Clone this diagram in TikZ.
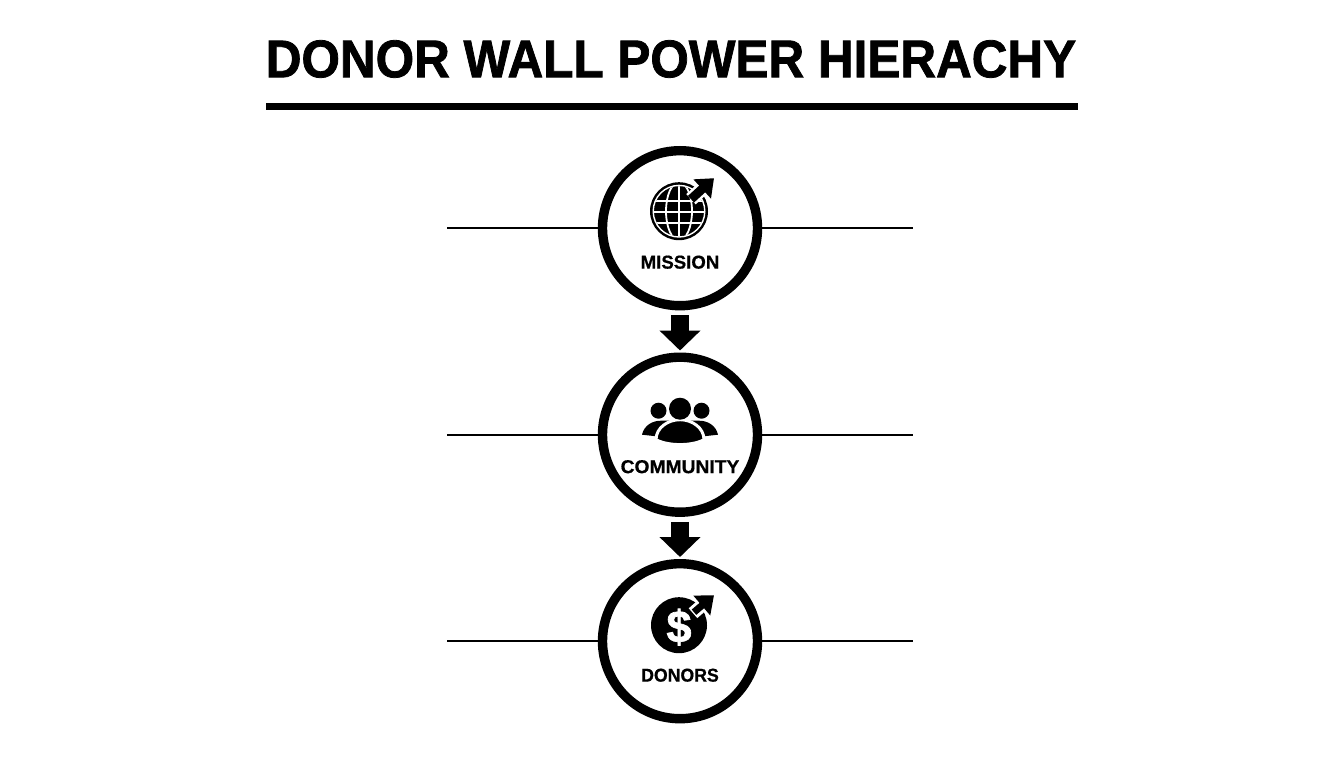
\documentclass[tikz,border=0pt]{standalone}
\usepackage{fontspec}
\setmainfont{Liberation Sans}
\newfontfamily\heavyfont[FakeBold=1.5]{Liberation Sans Bold}
\newfontfamily\labelfont[FakeBold=0.6]{Liberation Sans Bold}
\usetikzlibrary{arrows.meta,positioning}
\tikzset{%
tiernode/.style={circle, draw=black, line width=9.4pt, fill=white, minimum size=155pt, inner sep=0pt},
tierlabel/.style={font=\labelfont\fontsize{18.6}{18.6}\selectfont, inner sep=0pt},
sideline/.style={draw=black, line width=1.9pt},
flow/.style={draw=black, line width=18pt, -{Triangle[length=20pt,width=40pt]}, shorten <=5pt, shorten >=2pt},
iconarrow/.style={draw=black, line width=9pt, -{Triangle[length=16pt,width=25pt]}},
iconhalo/.style={draw=white, line width=14pt, -{Triangle[length=22pt,width=35pt]}},
globeicon/.pic={
	\fill[black] (0,0) circle (29);
	\draw[white, line width=1.4pt] (0,0) circle (25.8);
	\begin{scope}
		\clip (0,0) circle (25);
		\draw[white, line width=1.8pt] (0,0) ellipse (13 and 29);
		\draw[white, line width=1.8pt] (0,-29) -- (0,29);
		\draw[white, line width=1.8pt] (-29,10) -- (29,10);
		\draw[white, line width=1.8pt] (-29,-1) -- (29,-1);
		\draw[white, line width=1.8pt] (-29,-12) -- (29,-12);
	\end{scope}
	\draw[iconhalo] (12,12) -- (38,36);
	\draw[iconarrow] (12,12) -- (35,33);
},
peopleicon/.pic={
	\fill[black] (-21.5,24) circle (8);
	\fill[black] (21.5,24) circle (8);
	\fill[black] (-38,0) .. controls (-36,9) and (-28,14) .. (-19,14) -- (19,14) .. controls (28,14) and (36,9) .. (38,0) -- (20,-2) -- (-20,-2) -- cycle;
	\fill[black, draw=white, line width=3pt] (-24,-5) .. controls (-24,7) and (-12,15) .. (0,15) .. controls (12,15) and (24,7) .. (24,-5) .. controls (12,-11.5) and (-12,-11.5) .. cycle;
	\fill[black] (0,26) circle (11);
},
dollaricon/.pic={
	\fill[black] (0,0) circle (28);
	\node[text=white, font=\heavyfont\fontsize{45}{45}\selectfont, inner sep=0pt] (dollarsign) at (0,-2) {\$};
	\draw[iconhalo, line width=13pt] (14,12) -- (38,33);
	\draw[iconarrow, line width=7pt] (15,13) -- (35,30);
}
}
\begin{document}
\begin{tikzpicture}[x=1pt, y=1pt, node distance=206.5pt]
		\useasboundingbox (0,0) rectangle (1344,-768);
		\node[font=\heavyfont\fontsize{53}{53}\selectfont, inner sep=0pt] (title) at (671,-59) {\scalebox{0.933}[1]{DONOR WALL POWER HIERACHY}};
		\coordinate (ruleleft) at (266,-106.5);
		\coordinate (ruleright) at (1078,-106.5);
		\draw[black, line width=7pt] (ruleleft) -- (ruleright);

		\node[tiernode] (mission) at (680,-228.2) {};
		\node[tiernode] (community) [below of=mission] {};
		\node[tiernode] (donors) [below of=community] {};

		\coordinate[left of=mission, node distance=233pt] (missionleft);
		\coordinate[right of=mission, node distance=233pt] (missionright);
		\coordinate[left of=community, node distance=233pt] (communityleft);
		\coordinate[right of=community, node distance=233pt] (communityright);
		\coordinate[left of=donors, node distance=233pt] (donorsleft);
		\coordinate[right of=donors, node distance=233pt] (donorsright);

		\path[sideline] (missionleft) edge [] (mission);
		\path[sideline] (mission) edge [] (missionright);
		\path[sideline] (communityleft) edge [] (community);
		\path[sideline] (community) edge [] (communityright);
		\path[sideline] (donorsleft) edge [] (donors);
		\path[sideline] (donors) edge [] (donorsright);

		\draw[flow] (mission) -- (community);
		\draw[flow] (community) -- (donors);

		\node[tierlabel] (missionlabel) [below of=mission, node distance=34pt] {MISSION};
		\node[tierlabel] (communitylabel) [below of=community, node distance=32pt] {\scalebox{1.035}[1]{COMMUNITY}};
		\node[tierlabel] (donorslabel) [below of=donors, node distance=34pt] {\scalebox{0.95}[1]{DONORS}};

		\pic[xshift=-1pt, yshift=17pt] at (mission) {globeicon};
		\pic at (community) {peopleicon};
		\pic[xshift=-1pt, yshift=16pt] at (donors) {dollaricon};
	\end{tikzpicture}
\end{document}
